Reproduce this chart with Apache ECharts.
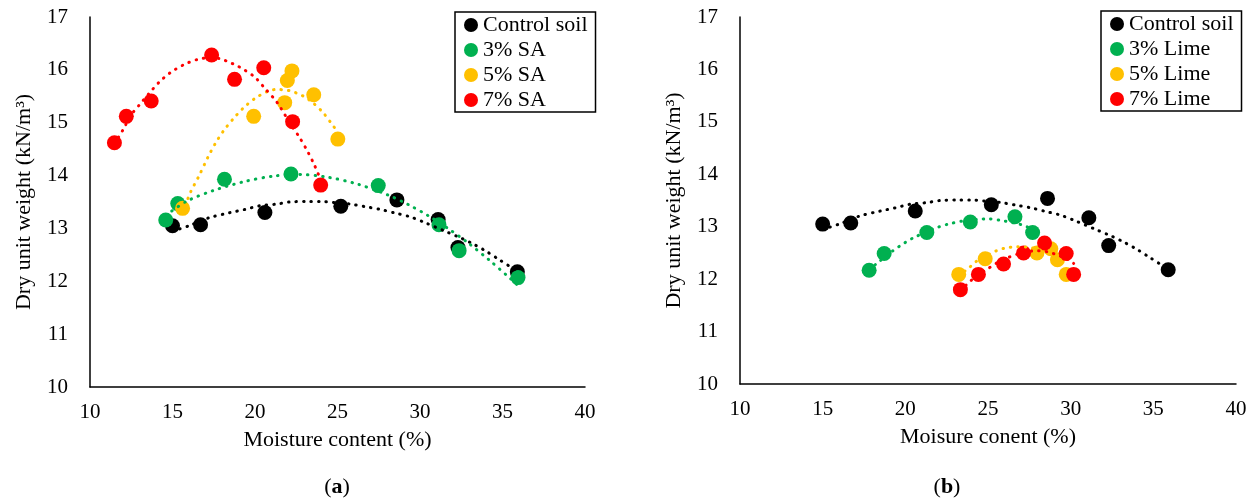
<!DOCTYPE html>
<html>
<head>
<meta charset="utf-8">
<script src="https://cdn.jsdelivr.net/npm/echarts@6/dist/echarts.min.js"></script>
<style>
html, body { margin: 0; padding: 0; background: #fff; }
#chart { width: 1254px; height: 499px; }
</style>
</head>
<body>
<div id="chart"></div>
<script>
// Compaction results: moisture content (%) against dry unit weight (kN/m3)

// Axis ranges [min, max, interval]
const xRange = [10, 40, 5];
const yRange = [10, 17, 1];

// Untreated soil (shared by both panels)
const controlX = [15.0, 16.7, 20.6, 25.2, 28.6, 31.1, 32.3, 35.9];
const controlY = [13.05, 13.07, 13.30, 13.42, 13.54, 13.17, 12.64, 12.18];

// Panel (a): SA-treated soil
const sa3X = [14.59, 15.32, 18.15, 22.18, 27.47, 31.15, 32.37, 35.94];
const sa3Y = [13.16, 13.47, 13.93, 14.03, 13.81, 13.07, 12.58, 12.07];
const sa5X = [15.61, 19.92, 21.80, 21.96, 22.24, 23.56, 25.02];
const sa5Y = [13.38, 15.12, 15.38, 15.80, 15.98, 15.53, 14.69];
const sa7X = [11.48, 12.20, 13.71, 17.37, 18.76, 20.53, 22.28, 23.98];
const sa7Y = [14.62, 15.12, 15.41, 16.28, 15.82, 16.04, 15.02, 13.82];

// Panel (b): lime-treated soil
const lime3X = [17.81, 18.72, 21.30, 23.93, 26.63, 27.70];
const lime3Y = [12.17, 12.49, 12.89, 13.09, 13.19, 12.89];
const lime5X = [23.23, 24.83, 27.96, 28.80, 29.20, 29.73];
const lime5Y = [12.09, 12.39, 12.50, 12.58, 12.37, 12.09];
const lime7X = [23.33, 24.42, 25.94, 27.15, 28.42, 29.73, 30.18];
const lime7Y = [11.80, 12.09, 12.29, 12.50, 12.69, 12.49, 12.09];

// Dotted trend curves (points along each curve)
const controlTrendX = [15.0, 16.0, 17.2, 18.5, 19.4, 20.3, 21.3, 22.1, 23.1, 24.0, 24.8, 25.8, 26.7, 27.6, 28.5, 29.4, 30.3, 31.5, 32.4, 33.2, 34.0, 34.8, 35.9];
const controlTrendY = [12.95, 13.05, 13.20, 13.30, 13.36, 13.43, 13.46, 13.50, 13.51, 13.51, 13.49, 13.46, 13.41, 13.36, 13.29, 13.22, 13.11, 12.95, 12.83, 12.71, 12.57, 12.41, 12.19];
const sa3TrendX = [14.6, 15.9, 17.5, 19.4, 21.1, 22.7, 24.4, 26.2, 28.0, 29.3, 30.5, 31.6, 32.9, 34.2, 35.3, 35.94];
const sa3TrendY = [13.25, 13.52, 13.72, 13.89, 13.99, 14.02, 13.97, 13.84, 13.64, 13.45, 13.24, 13.02, 12.73, 12.40, 12.10, 11.92];
const sa5TrendX = [15.61, 16.1, 16.6, 17.15, 17.6, 18.1, 18.7, 19.3, 20.0, 20.75, 21.3, 21.8, 22.2, 22.6, 23.0, 23.5, 24.1, 24.6, 25.02];
const sa5TrendY = [13.30, 13.69, 13.99, 14.35, 14.61, 14.85, 15.08, 15.28, 15.46, 15.59, 15.63, 15.62, 15.60, 15.55, 15.49, 15.38, 15.20, 15.00, 14.82];
const sa7TrendX = [11.48, 11.97, 12.5, 13.0, 13.57, 14.2, 14.88, 15.7, 16.55, 17.3, 17.9, 18.4, 18.9, 19.35, 20.0, 20.6, 21.2, 21.5, 22.1, 22.7, 23.2, 23.6, 23.98];
const sa7TrendY = [14.60, 14.85, 15.15, 15.34, 15.55, 15.77, 15.95, 16.10, 16.20, 16.23, 16.21, 16.15, 16.08, 16.00, 15.86, 15.65, 15.44, 15.31, 15.00, 14.72, 14.45, 14.20, 13.92];
const lime3TrendX = [17.81, 18.2, 19.2, 20.0, 20.5, 21.7, 22.6, 23.5, 24.3, 25.0, 25.8, 26.6, 27.1, 27.7];
const lime3TrendY = [12.18, 12.28, 12.53, 12.70, 12.79, 12.96, 13.05, 13.11, 13.14, 13.15, 13.12, 13.07, 13.03, 12.95];
const lime5TrendX = [23.23, 23.9, 24.3, 24.9, 25.5, 26.0, 26.8, 27.4, 28.0, 28.6, 29.2, 29.73];
const lime5TrendY = [12.06, 12.23, 12.34, 12.45, 12.54, 12.59, 12.62, 12.61, 12.57, 12.50, 12.41, 12.29];
const lime7TrendX = [23.33, 23.96, 24.5, 25.0, 25.6, 26.2, 26.9, 27.5, 28.0, 28.6, 29.3, 29.8, 30.18];
const lime7TrendY = [11.78, 11.97, 12.10, 12.20, 12.32, 12.41, 12.49, 12.53, 12.54, 12.52, 12.45, 12.38, 12.30];

const legendA = ['Control soil', '3% SA', '5% SA', '7% SA'];
const legendB = ['Control soil', '3% Lime', '5% Lime', '7% Lime'];
const colors = ['#000000', '#00B050', '#FFC000', '#FF0000'];

const FONT = '"Liberation Serif", "Times New Roman", serif';
const TEXT_SIZE = 22;
const TICK_SIZE = 21;

function pairs(xs, ys) {
  return xs.map((x, i) => [x, ys[i]]);
}

function points(name, xs, ys, color, idx) {
  return {
    type: 'scatter', name: name,
    xAxisIndex: idx, yAxisIndex: idx,
    data: pairs(xs, ys),
    symbol: 'circle', symbolSize: 15,
    itemStyle: { color: color, opacity: 1 },
    z: 2, silent: true
  };
}

function trend(name, xs, ys, color, idx) {
  return {
    type: 'line', name: name + ' trend',
    xAxisIndex: idx, yAxisIndex: idx,
    data: pairs(xs, ys),
    smooth: 0.3, symbol: 'none',
    lineStyle: { color: color, width: 3, type: [0.5, 7], cap: 'round' },
    z: 3, silent: true
  };
}

function xAxis(idx, name) {
  return {
    type: 'value', gridIndex: idx,
    min: xRange[0], max: xRange[1], interval: xRange[2],
    name: name, nameLocation: 'middle', nameGap: 42,
    nameTextStyle: { fontFamily: FONT, fontSize: TEXT_SIZE, color: '#000' },
    axisLine: { show: true, onZero: false, lineStyle: { color: '#000', width: 1.5 } },
    axisTick: { show: false },
    splitLine: { show: false },
    axisLabel: { margin: 15, fontFamily: FONT, fontSize: TICK_SIZE, color: '#000' }
  };
}

function yAxis(idx) {
  return {
    type: 'value', gridIndex: idx,
    min: yRange[0], max: yRange[1], interval: yRange[2],
    name: 'Dry unit weight (kN/m³)', nameLocation: 'middle', nameGap: 55,
    nameTextStyle: { fontFamily: FONT, fontSize: TEXT_SIZE, color: '#000' },
    axisLine: { show: true, onZero: false, lineStyle: { color: '#000', width: 1.5 } },
    axisTick: { show: false },
    splitLine: { show: false },
    axisLabel: { margin: 22, fontFamily: FONT, fontSize: TICK_SIZE, color: '#000' }
  };
}

function legend(data, left, top) {
  return {
    data: data, left: left, top: top, orient: 'vertical',
    backgroundColor: '#fff',
    borderColor: '#000', borderWidth: 1.5, borderRadius: 0,
    padding: [2, 8, 1, 9],
    itemGap: 3, itemWidth: 14, itemHeight: 14,
    icon: 'circle', selectedMode: false,
    textStyle: { fontFamily: FONT, fontSize: TEXT_SIZE, color: '#000', lineHeight: 20, padding: [0, 0, 0, 0] }
  };
}

function caption(x, letter) {
  return {
    type: 'text', x: x, y: 487,
    style: {
      text: '{n|(}{b|' + letter + '}{n|)}',
      align: 'center', verticalAlign: 'middle',
      rich: {
        n: { fontFamily: FONT, fontSize: TEXT_SIZE, fill: '#000' },
        b: { fontFamily: FONT, fontSize: TEXT_SIZE, fontWeight: 'bold', fill: '#000' }
      }
    }
  };
}

const chart = echarts.init(document.getElementById('chart'), null, { renderer: 'canvas' });

chart.setOption({
  animation: false,
  backgroundColor: '#fff',
  grid: [
    { left: 90, top: 17, width: 495, height: 370 },
    { left: 740, top: 17, width: 496, height: 367 }
  ],
  xAxis: [xAxis(0, 'Moisture content (%)'), xAxis(1, 'Moisure conent (%)')],
  yAxis: [yAxis(0), yAxis(1)],
  legend: [legend(legendA, 455, 12), legend(legendB, 1101, 11)],
  graphic: [caption(337, 'a'), caption(947, 'b')],
  series: [
    points(legendA[0], controlX, controlY, colors[0], 0),
    points(legendA[1], sa3X, sa3Y, colors[1], 0),
    points(legendA[2], sa5X, sa5Y, colors[2], 0),
    points(legendA[3], sa7X, sa7Y, colors[3], 0),
    trend(legendA[0], controlTrendX, controlTrendY, colors[0], 0),
    trend(legendA[1], sa3TrendX, sa3TrendY, colors[1], 0),
    trend(legendA[2], sa5TrendX, sa5TrendY, colors[2], 0),
    trend(legendA[3], sa7TrendX, sa7TrendY, colors[3], 0),

    points(legendB[0], controlX, controlY, colors[0], 1),
    points(legendB[1], lime3X, lime3Y, colors[1], 1),
    points(legendB[2], lime5X, lime5Y, colors[2], 1),
    points(legendB[3], lime7X, lime7Y, colors[3], 1),
    trend(legendB[0] + ' (b)', controlTrendX, controlTrendY, colors[0], 1),
    trend(legendB[1], lime3TrendX, lime3TrendY, colors[1], 1),
    trend(legendB[2], lime5TrendX, lime5TrendY, colors[2], 1),
    trend(legendB[3], lime7TrendX, lime7TrendY, colors[3], 1)
  ]
});
</script>
</body>
</html>
